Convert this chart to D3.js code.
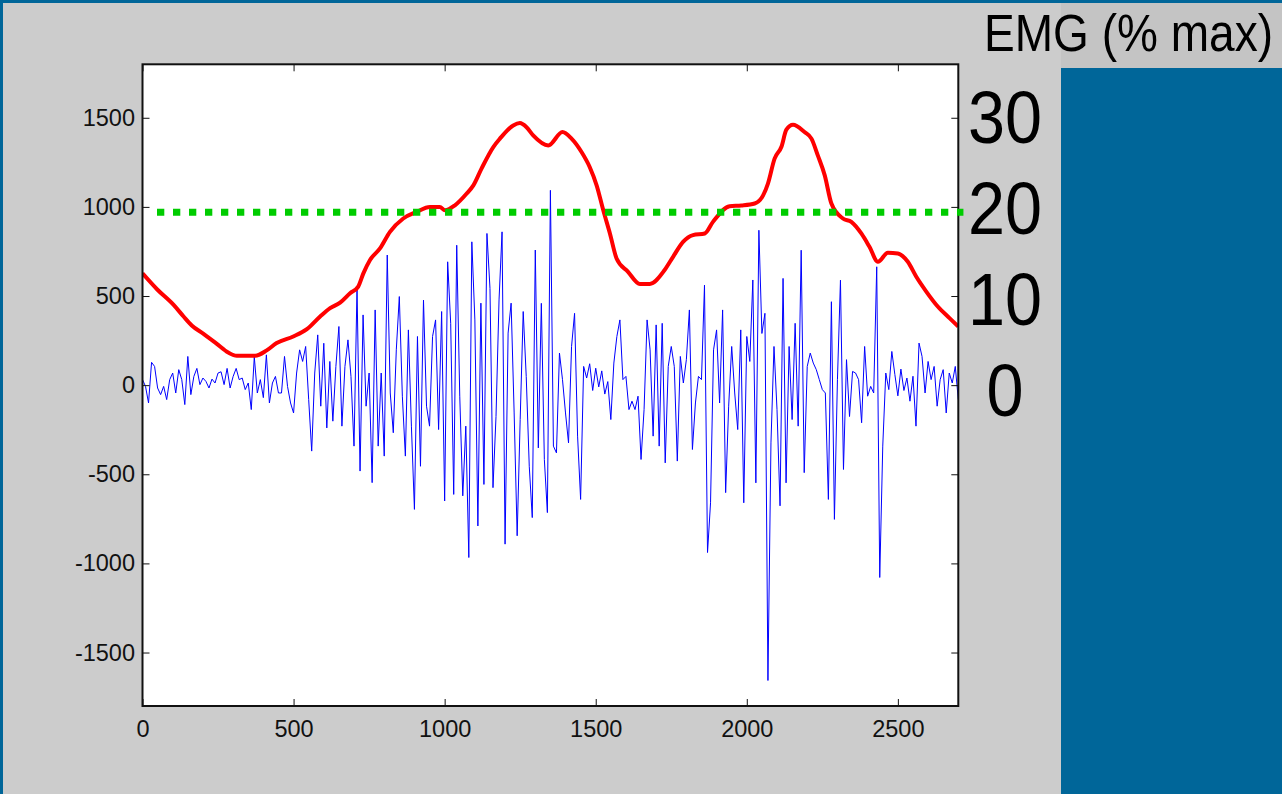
<!DOCTYPE html>
<html>
<head>
<meta charset="utf-8">
<script src="https://cdn.jsdelivr.net/npm/d3@7"></script>
<style>
    body { margin: 0; background: #006699; }
    svg { display: block; }
    .axis text { font-family: "Liberation Sans", Arial, Helvetica, sans-serif; font-size: 23.5px; fill: #111; }
    .axis line { stroke: #111; stroke-width: 1; }
    .big { font-family: "Liberation Sans Narrow", "Liberation Sans", Arial, sans-serif; fill: #000; }
</style>
</head>
<body>
<div id="vis"></div>
<script>
/* DATA */
// raw EMG signal, one value every sampleStep samples
var sampleStep = 10;
var emgRaw = [
    31, -7, -100, 128, 105, -16, -53, -7, -81, 31,
    68, -44, 87, 31, -109, 161, -53, 49, 94, 3,
    40, 21, -16, 34, 12, 68, 75, 3, 94, -16,
    49, 94, 31, 40, -25, 12, -137, 158, -44, 31,
    -70, 170, -100, 12, 49, -44,
    -44, 161, -7, -100, -156, 68, 198, 133, 217, -81,
    -370, 68, 282, -118, 235, -240, 133, -202, 105, 329,
    -230, 105, 254, 49, -342, 543, -482, 394, -118, 68,
    -547, 422, -342, 68, -398, 730, -44, -267, 198, 497,
    -62, -398, 310, -230, -697, 273,
    -455, 477, -118, -230, 273, 366, -249, 413, -650, 692,
    347, -613, 785, -62, -621, -230, -967, 804, 366, -790,
    460, -557, 851, 543, -575, -176, 478, 860, -892, 292,
    460, -156, -845, -193, 413, 49, -455, -743, 758, -352,
    459, -417, -715, 1093, -342,
    -380, 180, 31, -156, -324, 217, 403, -286, -641, 105,
    40, 120, -30, 95, -10, 80, -50, 20, -193, 124,
    273, 366, 31, 49, -137, -90, -137, -62, -417, -137,
    366, 198, -286, 338, -342, 347, -436, 105, 217, 105,
    -426, 161, 12, 143, 422, -361,
    -100, 49, 31, 561, -939, -660, 198, 310, -100, 422,
    -603, -118, 217, -44, -249, 310, -660, 273, 133, 590,
    -548, 869, 290, 403, -1657, -324, 217, -137, -677, 599,
    -548, 217, -193, 347, -230, 757, -491, 105, 180, 124,
    87, 31, -25, -44, -641, 468,
    -753, 31, 589, -473, 143, -176, 77, 68, 31, -211,
    217, -62, -7, -44, 664, -1079, -342, 68, -25, 189,
    60, -60, 90, -30, 40, -90, 50, -230, 236, 161,
    -44, 133, 31, 105, -118, 31, 87, -156, 68, 12,
    105, -81
];

// smoothed envelope (red)
var envelopeX = [0, 48, 103, 136, 163, 202, 246, 284, 312, 373,
    411, 444, 499, 544, 588, 621, 654, 687, 714, 731,
    753, 786, 819, 863, 907, 951, 984, 1001, 1034, 1073,
    1095, 1122, 1161, 1183, 1227, 1249, 1271, 1293, 1343, 1390,
    1420, 1453, 1480, 1503, 1525, 1547, 1569, 1607, 1646, 1679,
    1728, 1756, 1789, 1822, 1861, 1888, 1943, 1982, 2026, 2054,
    2070, 2092, 2115, 2131, 2153, 2191, 2214, 2235, 2258, 2280,
    2318, 2346, 2379, 2406, 2434, 2467, 2500, 2533, 2561, 2594,
    2632, 2671, 2700];
var envelopeY = [627, 538, 450, 385, 335, 288, 232, 183, 165, 165,
    195, 236, 273, 314, 385, 432, 463, 516, 553, 627,
    702, 767, 860, 935, 972, 1000, 1000, 981, 1009, 1075,
    1121, 1215, 1336, 1383, 1457, 1470, 1447, 1401, 1345, 1420,
    1383, 1308, 1224, 1121, 981, 851, 711, 636, 568, 568,
    646, 720, 804, 842, 851, 916, 1004, 1008, 1019, 1065,
    1131, 1271, 1339, 1433, 1461, 1420, 1383, 1289, 1177, 1019,
    935, 916, 851, 776, 692, 743, 739, 692, 608, 525,
    441, 376, 329];

// 20% threshold (green dotted)
var thresholdX = [48, 2717];
var thresholdLevel = 970;

var xTicks = [0, 500, 1000, 1500, 2000, 2500];
var yTicks = [-1500, -1000, -500, 0, 500, 1000, 1500];
var pctLabels = [30, 20, 10, 0];

function createChart() {
    var w = 1282;
    var h = 794;

    var xScale = d3.scaleLinear().domain([0, 2700]).range([142.5, 958.3]);
    var yScale = d3.scaleLinear().domain([-1800, 1800]).range([706, 64.3]);
    // right hand % max labels
    var pctScale = d3.scaleLinear().domain([0, 30]).range([389, 116.7]);

    var svg = d3.select("#vis")
        .append("svg")
        .attr("width", w)
        .attr("height", h);

    /* SLIDE BACKGROUND */
    svg.append("rect").attr("width", w).attr("height", h).attr("fill", "#006699");
    svg.append("rect").attr("x", 3).attr("y", 3).attr("width", 1058).attr("height", h - 3).attr("fill", "#cccccc");
    svg.append("rect").attr("x", 1061).attr("y", 3).attr("width", w - 1061).attr("height", 65).attr("fill", "#c4c4c4");

    var x0 = xScale.range()[0], x1 = xScale.range()[1];
    var yTop = yScale.range()[1], yBot = yScale.range()[0];

    svg.append("rect")
        .attr("x", x0).attr("y", yTop)
        .attr("width", x1 - x0).attr("height", yBot - yTop)
        .attr("fill", "#fff");

    svg.append("clipPath").attr("id", "plot-clip")
        .append("rect")
        .attr("x", x0).attr("y", yTop)
        .attr("width", x1 - x0).attr("height", yBot - yTop);

    /* DRAW LINES */
    var rawLine = d3.line()
        .x((d, i) => xScale(i * sampleStep))
        .y(d => yScale(d));

    svg.append("path")
        .datum(emgRaw)
        .attr("clip-path", "url(#plot-clip)")
        .attr("fill", "none")
        .attr("stroke", "#0000ff")
        .attr("stroke-width", 1)
        .attr("d", rawLine);

    var envelope = envelopeX.map((x, i) => [x, envelopeY[i]]);
    var envLine = d3.line()
        .x(d => xScale(d[0]))
        .y(d => yScale(d[1]))
        .curve(d3.curveMonotoneX);

    svg.append("path")
        .datum(envelope)
        .attr("clip-path", "url(#plot-clip)")
        .attr("fill", "none")
        .attr("stroke", "#ff0000")
        .attr("stroke-width", 4)
        .attr("stroke-linejoin", "round")
        .attr("d", envLine);

    /* AXES (ticks inward, box on) */
    var fmt = d => String(d);

    svg.append("g").attr("class", "axis")
        .attr("transform", "translate(0," + yBot + ")")
        .call(d3.axisBottom(xScale).tickValues(xTicks).tickSize(-7).tickPadding(14.3).tickFormat(fmt));

    svg.append("g").attr("class", "axis")
        .attr("transform", "translate(0," + yTop + ")")
        .call(d3.axisTop(xScale).tickValues(xTicks).tickSize(-7).tickFormat(""));

    svg.append("g").attr("class", "axis")
        .attr("transform", "translate(" + x0 + ",0)")
        .call(d3.axisLeft(yScale).tickValues(yTicks).tickSize(-7).tickPadding(7.5).tickFormat(fmt));

    svg.append("g").attr("class", "axis")
        .attr("transform", "translate(" + x1 + ",0)")
        .call(d3.axisRight(yScale).tickValues(yTicks).tickSize(-7).tickFormat(""));

    svg.selectAll(".axis .domain").remove();

    svg.append("rect")
        .attr("x", x0).attr("y", yTop)
        .attr("width", x1 - x0).attr("height", yBot - yTop)
        .attr("fill", "none")
        .attr("stroke", "#111")
        .attr("stroke-width", 2);

    /* THRESHOLD */
    svg.append("line")
        .attr("x1", xScale(thresholdX[0]))
        .attr("x2", xScale(thresholdX[1]))
        .attr("y1", yScale(thresholdLevel))
        .attr("y2", yScale(thresholdLevel))
        .attr("stroke", "#00cc00")
        .attr("stroke-width", 7)
        .attr("stroke-dasharray", "7.3 8.7");

    /* TEXT */
    svg.append("text")
        .attr("class", "big")
        .attr("x", 984)
        .attr("y", 50.7)
        .attr("font-size", 51)
        .attr("textLength", 289)
        .attr("lengthAdjust", "spacingAndGlyphs")
        .text("EMG (% max)");

    svg.selectAll(".pct")
        .data(pctLabels)
        .enter()
        .append("text")
        .attr("class", "big pct")
        .attr("x", 1005)
        .attr("y", d => pctScale(d) + 26.5)
        .attr("font-size", 74)
        .attr("text-anchor", "middle")
        .attr("textLength", d => String(d).length * 37)
        .attr("lengthAdjust", "spacingAndGlyphs")
        .text(d => d);
}

function main() {
    createChart();
}

main()
</script>
</body>
</html>
